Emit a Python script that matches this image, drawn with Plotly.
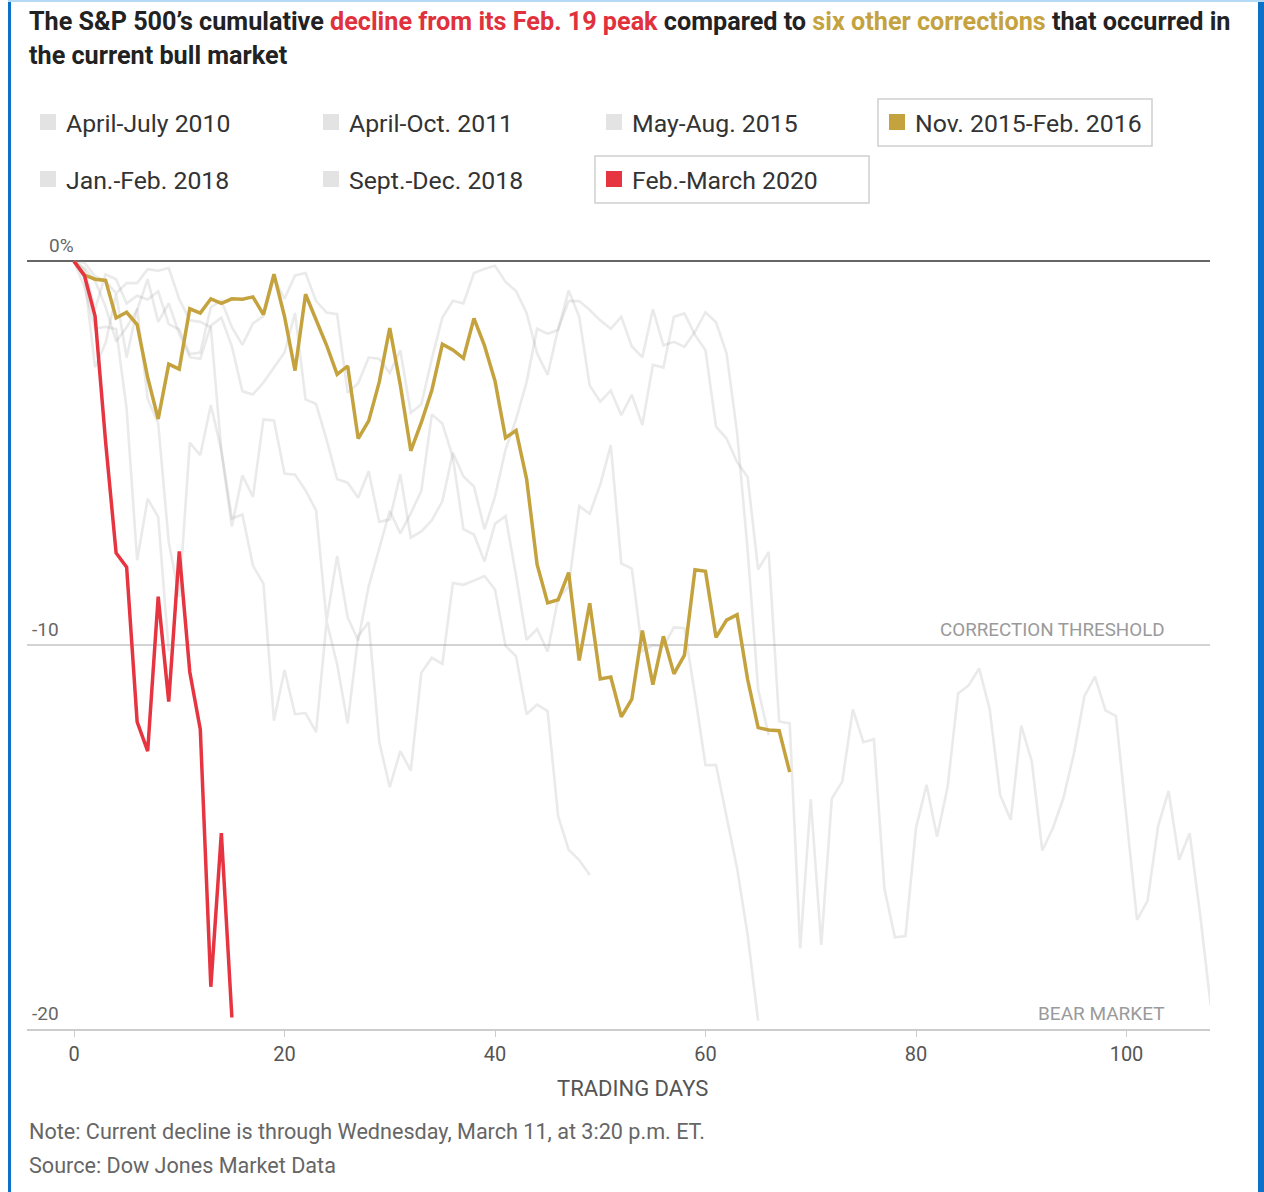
import plotly.graph_objects as go

# ---------------- data (percent change from peak, by trading day) ----------------
apr_jul_2010 = [0, -0.43, -2.76, -2.13, -0.86, -2.51, -1.23, -3.59, -4.22, -7.32, -8.74,
                -4.73, -5.05, -3.75, -4.92, -6.70, -6.60, -7.93, -8.40, -11.97, -10.65,
                -11.80, -11.77, -12.27, -9.38, -10.50, -12.04, -9.77, -9.40, -12.52, -13.70,
                -12.76, -13.27, -10.72, -10.33, -10.49, -8.38, -8.43, -8.32, -8.20, -8.55,
                -10.02, -10.29, -11.80, -11.55, -11.72, -14.46, -15.33, -15.60, -15.99]

apr_oct_2011 = [0, -0.18, -0.51, -1.19, -2.09, -1.72, -1.27, -0.47, -1.58, -1.10, -1.89,
                -2.50, -2.54, -1.68, -1.47, -2.22, -3.39, -3.47, -3.16, -2.78, -2.38,
                -1.35, -3.60, -3.72, -4.65, -5.68, -5.77, -6.16, -5.47, -6.79, -6.73,
                -5.55, -7.20, -7.04, -6.75, -6.25, -4.99, -5.61, -5.87, -6.98, -6.13,
                -4.91, -4.12, -3.15, -1.76, -1.89, -1.79, -0.76, -1.45, -3.24, -3.66,
                -3.37, -4.01, -3.48, -4.27, -2.70, -2.77, -1.45, -1.36, -1.92, -2.32,
                -4.31, -4.62, -5.23, -5.62, -8.03, -7.57, -11.99, -12.04, -17.90, -14.01,
                -17.81, -14.00, -13.55, -11.67, -12.53, -12.45, -16.35, -17.61, -17.58, -14.76,
                -13.64, -14.99, -13.70, -11.26, -11.05, -10.61, -11.67, -13.91, -14.55, -12.10,
                -13.03, -15.35, -14.77, -13.99, -12.83, -11.33, -10.82, -11.70, -11.85, -14.44,
                -17.16, -16.66, -14.72, -13.80, -15.59, -14.90, -17.03, -19.39]

may_aug_2015 = [0, -0.22, -1.25, -0.34, -0.47, -1.10, -0.90, -1.00, -0.79, -1.64, -1.78,
                -2.42, -2.38, -1.20, -1.03, -1.72, -2.18, -1.62, -1.43, -0.45, -0.98,
                -0.37, -0.31, -1.04, -1.34, -1.38, -3.43, -3.18, -2.51, -2.54, -2.91,
                -2.32, -3.95, -3.73, -2.54, -1.47, -1.03, -1.10, -0.31, -0.20, -0.12,
                -0.54, -0.78, -1.35, -2.40, -2.96, -1.76, -1.04, -1.04, -1.27, -1.54,
                -1.76, -1.45, -2.22, -2.50, -1.25, -2.19, -2.10, -2.23, -1.84, -1.33,
                -1.59, -2.40, -4.46, -7.51, -11.15, -12.35]

nov_feb_2016 = [0, -0.36, -0.47, -0.50, -1.48, -1.33, -1.65, -3.03, -4.11, -2.68, -2.81,
                -1.24, -1.35, -0.98, -1.10, -0.98, -0.99, -0.93, -1.39, -0.34, -1.44,
                -2.85, -0.86, -1.55, -2.19, -2.95, -2.73, -4.62, -4.16, -3.15, -1.74,
                -3.22, -4.94, -4.20, -3.36, -2.16, -2.31, -2.53, -1.49, -2.20, -3.12,
                -4.60, -4.41, -5.67, -7.90, -8.90, -8.82, -8.11, -10.40, -8.91, -10.88,
                -10.83, -11.87, -11.41, -9.62, -11.03, -9.77, -10.75, -10.26, -8.04, -8.08,
                -9.80, -9.35, -9.21, -10.89, -12.15, -12.21, -12.23, -13.31]

jan_feb_2018 = [0, -0.67, -1.76, -1.71, -1.77, -3.85, -7.79, -6.19, -6.66, -10.16]

sep_dec_2018 = [0, -0.04, -0.39, -0.52, -0.84, -0.57, -0.57, -0.21, -0.25, -0.18, -0.99,
                -1.54, -1.58, -1.72, -4.95, -6.91, -5.58, -6.14, -4.12, -4.15, -5.53,
                -5.56, -5.97, -6.49, -9.37, -7.68, -9.28, -9.88, -8.47, -7.47, -6.50,
                -7.09, -6.57, -5.98, -3.99, -4.23, -5.11, -6.98, -7.12, -7.82, -6.84,
                -6.64, -8.19, -9.86, -9.58, -10.17, -8.78, -8.48, -6.38, -6.58, -5.82,
                -4.79, -7.87, -8.01, -10.16, -10.00, -10.03, -9.54, -9.56, -11.29, -13.13,
                -13.12, -14.46, -15.81, -17.54, -19.78]

feb_mar_2020 = [0, -0.38, -1.43, -4.70, -7.60, -7.97, -12.00, -12.76, -8.74, -11.47, -7.56,
                -10.70, -12.20, -18.90, -14.90, -19.70]

gray_series = [("April-July 2010", apr_jul_2010), ("April-Oct. 2011", apr_oct_2011),
               ("May-Aug. 2015", may_aug_2015), ("Jan.-Feb. 2018", jan_feb_2018),
               ("Sept.-Dec. 2018", sep_dec_2018)]

legend_rows = [["April-July 2010", "April-Oct. 2011", "May-Aug. 2015", "Nov. 2015-Feb. 2016"],
               ["Jan.-Feb. 2018", "Sept.-Dec. 2018", "Feb.-March 2020"]]

x_ticks = [0, 20, 40, 60, 80, 100]
y_ticks = [0, -10, -20]
y_tick_labels = ["0%", "-10", "-20"]

# ---------------- styling ----------------
W, H = 1264, 1192
L, R, T, B = 27, 1210, 242, 1029          # plot area in pixels
FONT = "Roboto, Arial, sans-serif"
GOLD = "#c4a33f"
RED = "#e63540"
GRAY_LINE = "rgba(150,150,150,0.2)"
TXT = "#333333"

def px(xp):  # page x pixel -> paper
    return (xp - L) / (R - L)

def py(yp):  # page y pixel -> paper
    return (B - yp) / (B - T)

fig = go.Figure()

for name, vals in gray_series:
    fig.add_trace(go.Scatter(x=list(range(len(vals))), y=vals, mode="lines", name=name,
                             line=dict(color=GRAY_LINE, width=2.6), showlegend=False,
                             hoverinfo="skip"))

fig.add_trace(go.Scatter(x=list(range(len(nov_feb_2016))), y=nov_feb_2016, mode="lines",
                         name="Nov. 2015-Feb. 2016", line=dict(color=GOLD, width=3.5),
                         showlegend=False))
fig.add_trace(go.Scatter(x=list(range(len(feb_mar_2020))), y=feb_mar_2020, mode="lines",
                         name="Feb.-March 2020", line=dict(color=RED, width=3.5),
                         showlegend=False))

shapes = []
annotations = []

# frame (blue bars)
shapes.append(dict(type="rect", xref="paper", yref="paper", x0=px(8), x1=px(11), y0=py(H), y1=py(0),
                   fillcolor="#0b72c7", line=dict(width=0), layer="above"))
shapes.append(dict(type="rect", xref="paper", yref="paper", x0=px(1258), x1=px(1264), y0=py(H), y1=py(0),
                   fillcolor="#0b72c7", line=dict(width=0), layer="above"))
shapes.append(dict(type="rect", xref="paper", yref="paper", x0=px(8), x1=px(1264), y0=py(2), y1=py(0),
                   fillcolor="#b5daf5", line=dict(width=0), layer="above"))

# title
title1 = ("<b>The S&P 500’s cumulative <span style='color:#e0313c'>decline from its Feb. 19 peak</span>"
          " compared to <span style='color:%s'>six other corrections</span> that occurred in</b>" % GOLD)
title2 = "<b>the current bull market</b>"
annotations.append(dict(text=title1, xref="paper", yref="paper", x=px(27), y=py(22), xanchor="left",
                        yanchor="middle", showarrow=False, font=dict(family=FONT, size=25.2, color="#222")))
annotations.append(dict(text=title2, xref="paper", yref="paper", x=px(27), y=py(56), xanchor="left",
                        yanchor="middle", showarrow=False, font=dict(family=FONT, size=25.2, color="#222")))

# legend (drawn)
col_x = [40, 323, 606, 889]
row_y = [122, 179]
sel_colors = {"Nov. 2015-Feb. 2016": GOLD, "Feb.-March 2020": RED}
for r, row in enumerate(legend_rows):
    for c, label in enumerate(row):
        sx = col_x[c]
        sy = row_y[r]
        color = sel_colors.get(label, "#e3e3e3")
        if label in sel_colors:
            shapes.append(dict(type="rect", xref="paper", yref="paper",
                               x0=px(sx - 11), x1=px(sx + 263), y0=py(sy + 24), y1=py(sy - 23),
                               line=dict(color="#cfcfcf", width=1.5), fillcolor="rgba(0,0,0,0)"))
        shapes.append(dict(type="rect", xref="paper", yref="paper",
                           x0=px(sx), x1=px(sx + 16), y0=py(sy + 8), y1=py(sy - 8),
                           fillcolor=color, line=dict(width=0)))
        annotations.append(dict(text=label, xref="paper", yref="paper", x=px(sx + 24), y=py(sy + 1),
                                xanchor="left", yanchor="middle", showarrow=False,
                                font=dict(family=FONT, size=24.8, color=TXT)))

# y tick labels
ylab_x = [47, 30, 30]
for v, lab, lx in zip(y_ticks, y_tick_labels, ylab_x):
    annotations.append(dict(text=lab, xref="paper", yref="y", x=px(lx), y=v, xanchor="left",
                            yanchor="bottom", yshift=2, showarrow=False,
                            font=dict(family=FONT, size=19, color="#666")))

annotations.append(dict(text="CORRECTION THRESHOLD", xref="paper", yref="y", x=px(1167), y=-10,
                        xanchor="right", yanchor="bottom", yshift=2, showarrow=False,
                        font=dict(family=FONT, size=18.8, color="#9a9a9a")))
annotations.append(dict(text="BEAR MARKET", xref="paper", yref="y", x=px(1167), y=-20,
                        xanchor="right", yanchor="bottom", yshift=2, showarrow=False,
                        font=dict(family=FONT, size=19, color="#9a9a9a")))

annotations.append(dict(text="TRADING DAYS", xref="paper", yref="paper", x=px(632), y=py(1088),
                        xanchor="center", yanchor="middle", showarrow=False,
                        font=dict(family=FONT, size=22, color="#555")))
annotations.append(dict(text="Note: Current decline is through Wednesday, March 11, at 3:20 p.m. ET.",
                        xref="paper", yref="paper", x=px(27), y=py(1131), xanchor="left",
                        yanchor="middle", showarrow=False, font=dict(family=FONT, size=21.6, color="#666")))
annotations.append(dict(text="Source: Dow Jones Market Data",
                        xref="paper", yref="paper", x=px(27), y=py(1165), xanchor="left",
                        yanchor="middle", showarrow=False, font=dict(family=FONT, size=21.6, color="#666")))

x0_day = 0 - (74 - L) / 10.525
x1_day = (R - 74) / 10.525

fig.update_layout(
    width=W, height=H,
    margin=dict(l=L, r=W - R, t=T, b=H - B, pad=0),
    paper_bgcolor="white", plot_bgcolor="white",
    showlegend=False,
    shapes=shapes, annotations=annotations,
    font=dict(family=FONT),
    xaxis=dict(range=[x0_day, x1_day], tickvals=x_ticks, showgrid=False, zeroline=False,
               ticks="outside", ticklen=6, tickcolor="#cccccc", tickwidth=1,
               showline=True, linecolor="#cccccc", linewidth=2,
               tickfont=dict(family=FONT, size=20, color="#555")),
    yaxis=dict(range=[-20, 0.5], tickvals=y_ticks, showticklabels=False,
               showgrid=True, gridcolor="#d3d3d3", gridwidth=1.5,
               zeroline=True, zerolinecolor="#666666", zerolinewidth=2),
)

fig.write_html("out.html", config={"displayModeBar": False},
               post_script="document.body.style.margin='0';document.body.style.overflow='hidden';")
